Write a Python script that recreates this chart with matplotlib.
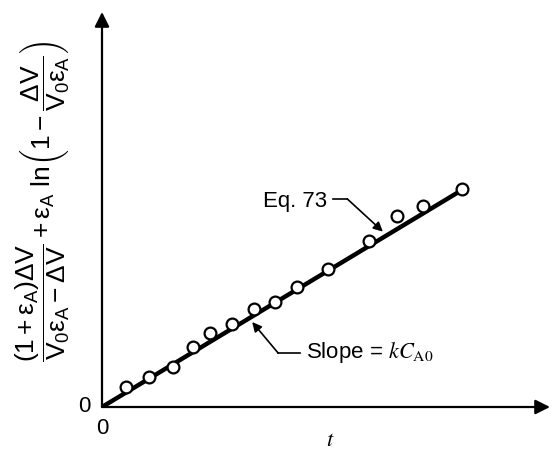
import matplotlib
matplotlib.use("Agg")
import matplotlib.pyplot as plt
import numpy as np

# Data (t in arbitrary units, y = left-side expression)
t_pts = [0.67, 1.31, 1.97, 2.53, 3.00, 3.61, 4.22, 4.81, 5.42, 6.28, 7.42, 8.19, 8.92, 10.0]
y_pts = [0.56, 0.83, 1.11, 1.67, 2.06, 2.31, 2.72, 2.92, 3.33, 3.83, 4.61, 5.31, 5.58, 6.06]
slope = 0.603
t_line = [0.0, 10.02]

plt.rcParams['mathtext.fontset'] = 'custom'
plt.rcParams['mathtext.rm'] = 'Liberation Sans'
plt.rcParams['mathtext.it'] = 'Liberation Sans'
plt.rcParams['mathtext.bf'] = 'Liberation Sans:bold'
plt.rcParams['font.family'] = ['Liberation Sans', 'DejaVu Sans']

fig = plt.figure(figsize=(5.52, 4.5), dpi=100)
ax = fig.add_axes([102/552, 43/450, 448/552, 395/450])
ax.set_xlim(0, 12.44)
ax.set_ylim(0, 10.97)
for s in ax.spines.values():
    s.set_visible(False)
ax.set_xticks([])
ax.set_yticks([])

# axes with arrows
ax.annotate('', xy=(1, 0), xytext=(0, 0), xycoords='axes fraction',
            arrowprops=dict(arrowstyle='-|>', lw=1.6, color='k', mutation_scale=22,
                            shrinkA=0, shrinkB=0))
ax.annotate('', xy=(0, 1), xytext=(0, 0), xycoords='axes fraction',
            arrowprops=dict(arrowstyle='-|>', lw=1.6, color='k', mutation_scale=22,
                            shrinkA=0, shrinkB=0))

# fitted line
ax.plot(t_line, [slope * v for v in t_line], color='k', lw=3.2, solid_capstyle='butt', zorder=3)
# data points
ax.plot(t_pts, y_pts, 'o', ms=8.5, mfc='white', mec='k', mew=1.6, zorder=4, clip_on=False)

# Eq. 73 annotation
ax.plot([6.42, 6.81], [5.78, 5.78], color='k', lw=1.2)
ax.annotate('', xy=(7.8, 4.87), xytext=(6.81, 5.78),
            arrowprops=dict(arrowstyle='-|>', lw=1.2, color='k', mutation_scale=14,
                            shrinkA=0, shrinkB=0))
ax.text(6.25, 5.72, 'Eq. 73', ha='right', va='center', fontsize=16)

# Slope annotation
ax.plot([5.5, 4.89], [1.5, 1.5], color='k', lw=1.2)
ax.annotate('', xy=(4.17, 2.36), xytext=(4.89, 1.5),
            arrowprops=dict(arrowstyle='-|>', lw=1.2, color='k', mutation_scale=14,
                            shrinkA=0, shrinkB=0))
ax.text(5.67, 1.5, r'Slope = $kC_{\mathrm{A0}}$', ha='left', va='center', fontsize=16,
        math_fontfamily='stix')

# zero labels and t
fig.text(84/552, 1 - 407/450, '0', ha='center', va='center', fontsize=16)
fig.text(102/552, 1 - 429/450, '0', ha='center', va='center', fontsize=16)
fig.text(330/552, 1 - 440/450, r'$t$', ha='center', va='center', fontsize=16,
         math_fontfamily='stix')

ylab = (r'$\dfrac{(1+\varepsilon_{\mathrm{A}})\Delta V}{V_0\varepsilon_{\mathrm{A}}-\Delta V}'
        r'+\varepsilon_{\mathrm{A}}\ \mathrm{ln}\left(1-\dfrac{\Delta V}{V_0\varepsilon_{\mathrm{A}}}\right)$')
fig.text(43/552, 1 - 201/450, ylab, rotation=90, ha='center', va='center', fontsize=19)

fig.savefig('out.png', dpi=100)
